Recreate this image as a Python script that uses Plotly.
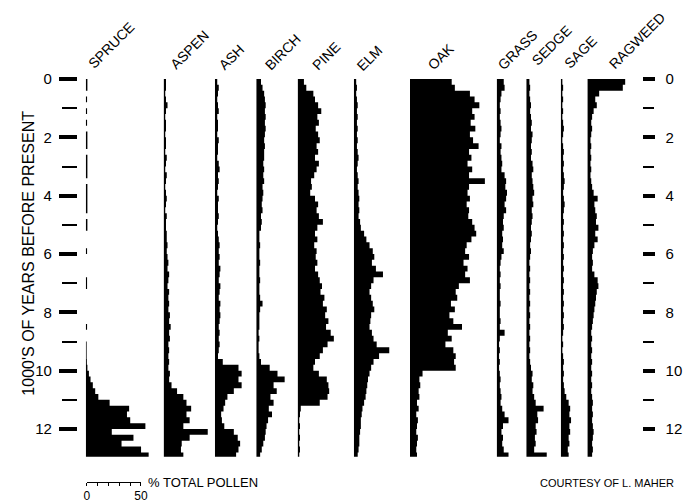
import plotly.graph_objects as go

# ---------------- data (percent of total pollen vs. thousands of years BP) ----------------
depth = [0.0, 0.2, 0.4, 0.6, 0.8, 1.0, 1.2, 1.4, 1.6, 1.8,
         2.0, 2.2, 2.4, 2.6, 2.8, 3.0, 3.2, 3.4, 3.6, 3.8,
         4.0, 4.2, 4.4, 4.6, 4.8, 5.0, 5.2, 5.4, 5.6, 5.8,
         6.0, 6.2, 6.4, 6.6, 6.8, 7.0, 7.2, 7.4, 7.6, 7.8,
         8.0, 8.2, 8.4, 8.6, 8.8, 9.0, 9.2, 9.4, 9.6, 9.8,
         10.0, 10.2, 10.4, 10.6, 10.8, 11.0, 11.2, 11.4, 11.6, 11.8,
         12.0, 12.2, 12.4, 12.6, 12.8, 12.95]

spruce = [1.5, 1.5, 0, 1.2, 0, 1.2, 0, 1.2, 0, 1.5,
          1.5, 1.5, 0, 1.5, 1.5, 1.5, 1.5, 0, 1.5, 1.5,
          1.5, 1.5, 1.5, 0, 1.5, 1.5, 0, 0, 0, 1.2,
          0, 0, 0, 0, 1.2, 1.2, 0, 0, 0, 0,
          0, 0, 1.2, 0, 0, 0.8, 0.8, 0.8, 1.0, 1.5,
          2.9, 4.4, 6.5, 8.7, 11.6, 22, 40, 38, 41, 55,
          24, 44, 33, 51, 58, 64]
aspen = [2.2, 2.2, 1.5, 2.2, 3.6, 2.2, 1.5, 2.2, 2.2, 1.5,
         2.2, 2.2, 1.5, 2.9, 2.2, 1.5, 2.9, 2.2, 1.5, 2.2,
         2.9, 2.2, 1.5, 2.9, 2.2, 2.2, 2.9, 2.9, 3.6, 2.9,
         3.6, 4.4, 3.6, 5.1, 4.4, 3.6, 5.1, 4.4, 5.1, 4.4,
         5.8, 5.1, 6.5, 5.1, 5.8, 4.4, 5.1, 4.4, 5.1, 4.4,
         5.8, 5.1, 7.3, 12.4, 18.2, 21.1, 25.4, 21.1, 24, 18.2,
         40.7, 24, 16.7, 16, 18.2, 15.3]
ash = [2.2, 3.6, 2.9, 2.2, 2.9, 3.6, 2.2, 2.9, 2.9, 2.2,
       3.6, 2.9, 2.9, 2.2, 3.6, 4.4, 2.9, 3.6, 2.9, 2.2,
       3.6, 2.9, 2.9, 3.6, 2.9, 2.2, 2.9, 3.6, 4.4, 3.6,
       4.4, 3.6, 5.1, 4.4, 3.6, 5.1, 4.4, 3.6, 5.1, 4.4,
       5.1, 4.4, 3.6, 4.4, 3.6, 4.4, 3.6, 2.9, 7.3, 21.8,
       24.7, 21.8, 24.7, 17.5, 11.6, 9.5, 8, 5.8, 6.5, 8.7,
       17.5, 21.1, 23.3, 21.8, 19.6, 12.4]
birch = [4.4, 5.8, 7.3, 8, 8.7, 8, 8.7, 8, 8.7, 8,
         7.3, 8, 7.3, 7.3, 6.5, 7.3, 6.5, 7.3, 5.8, 6.5,
         5.8, 5.1, 5.8, 4.4, 5.1, 4.4, 2.9, 2.9, 3.6, 2.9,
         2.9, 3.6, 2.9, 2.9, 3.6, 2.9, 2.9, 3.6, 5.8, 3.6,
         2.9, 2.9, 2.9, 2.2, 2.9, 2.2, 2.2, 2.9, 4.4, 12.4,
         19.6, 26.2, 16, 18.9, 13.1, 16, 11.6, 14.5, 10.9, 9.5,
         8.7, 8, 6.5, 5.1, 3.6, 2.9]
pine = [5.8, 8, 14.5, 16, 18.9, 21.8, 18.2, 19.6, 16.7, 18.9,
        20.4, 17.5, 18.9, 16, 19.6, 17.5, 15.3, 12.4, 13.1, 11.6,
        16, 18.9, 17.5, 19.6, 23.3, 18.2, 16, 18.2, 15.3, 17.5,
        16.7, 18.2, 16, 18.9, 20.4, 22.5, 21.1, 24.7, 23.3, 26.9,
        25.4, 28.4, 26.2, 30.5, 33.4, 27.6, 23.3, 20.4, 16, 14.5,
        19.6, 26.9, 28.4, 29.1, 27.6, 20.4, 2.9, 2.2, 1.5, 2.2,
        1.5, 2.2, 1.5, 2.2, 1.5, 2.2]
elm = [2.2, 2.9, 2.2, 2.9, 3.6, 2.9, 3.6, 2.9, 3.6, 2.9,
       3.6, 2.9, 3.6, 4.4, 3.6, 2.9, 3.6, 4.4, 3.6, 4.4,
       5.1, 4.4, 5.1, 4.4, 5.8, 6.5, 9.5, 11.6, 14.5, 17.5,
       18.9, 16.7, 20.4, 26.9, 18.2, 16, 14.5, 16, 17.5, 18.9,
       16, 15.3, 14.5, 16.7, 18.2, 21.1, 32.7, 23.3, 18.2, 16,
       14.5, 13.1, 12.4, 11.6, 10.9, 9.5, 8, 7.3, 6.5, 6.5,
       5.8, 5.1, 5.1, 4.4, 3.6, 3.6]
oak = [38.5, 41.4, 55.3, 59.6, 64, 57.4, 59.6, 56, 60.3, 55.3,
       58.2, 63.3, 54.5, 56.7, 53.1, 57.4, 54.5, 69.1, 54.5, 53.1,
       55.3, 52.3, 54.5, 53.8, 57.4, 59.6, 61.1, 56.7, 52.3, 50.9,
       54.5, 49.4, 53.1, 50.9, 55.3, 45.1, 42.2, 43.6, 37.8, 41.4,
       36.4, 40, 48, 34.9, 38.5, 32.7, 40, 42.2, 40.7, 42.2,
       11.6, 8.7, 9.5, 8, 8.7, 6.5, 8, 5.8, 7.3, 6.5,
       5.8, 7.3, 6.5, 5.8, 6.5, 5.8]
grass = [6.5, 7.3, 4.4, 3.6, 2.9, 3.6, 2.9, 3.6, 4.4, 3.6,
         2.9, 4.4, 3.6, 4.4, 5.1, 4.4, 7.3, 8.7, 8, 9.5,
         8.7, 7.3, 8.7, 6.5, 5.8, 6.5, 5.1, 5.8, 5.1, 6.5,
         4.4, 3.6, 2.9, 3.6, 2.9, 3.6, 2.9, 2.9, 3.6, 2.9,
         2.9, 3.6, 2.9, 7.3, 2.9, 2.2, 2.9, 2.2, 2.9, 2.2,
         2.9, 3.6, 2.9, 3.6, 4.4, 3.6, 5.1, 7.3, 10.9, 5.8,
         4.4, 5.8, 5.1, 6.5, 10.9, 7.3]
sedge = [2.9, 3.6, 2.9, 3.6, 4.4, 3.6, 4.4, 5.1, 4.4, 5.8,
         5.1, 4.4, 5.1, 4.4, 5.8, 6.5, 5.1, 5.8, 6.5, 7.3,
         5.8, 6.5, 5.1, 5.8, 5.1, 4.4, 5.1, 4.4, 3.6, 4.4,
         3.6, 2.9, 3.6, 2.9, 3.6, 2.9, 3.6, 2.9, 3.6, 2.9,
         3.6, 2.9, 3.6, 2.9, 3.6, 2.9, 3.6, 2.9, 3.6, 4.4,
         5.8, 5.1, 6.5, 5.8, 7.3, 8.7, 16, 10.2, 10.9, 8.7,
         9.5, 8, 8.7, 7.3, 18.9, 14.5]
sage = [1.5, 2.2, 1.5, 2.2, 1.5, 2.2, 1.5, 2.2, 2.9, 2.2,
        1.5, 2.2, 2.9, 2.2, 2.9, 2.2, 2.9, 3.6, 2.9, 2.2,
        2.9, 3.6, 2.9, 2.2, 2.9, 2.2, 2.9, 2.2, 2.9, 2.2,
        2.9, 2.2, 2.9, 2.2, 2.9, 2.2, 2.9, 2.2, 2.9, 2.2,
        2.9, 2.2, 2.9, 2.2, 1.5, 2.2, 1.5, 2.2, 2.9, 2.2,
        2.9, 2.2, 2.9, 3.6, 5.1, 7.3, 8.7, 8, 9.5, 8,
        8.7, 7.3, 8, 6.5, 7.3, 5.8]
ragweed = [34.9, 32.7, 10.9, 7.3, 8.7, 5.8, 4.4, 3.6, 4.4, 3.6,
           2.9, 3.6, 2.9, 3.6, 2.9, 3.6, 2.9, 3.6, 4.4, 5.8,
           9.5, 6.5, 7.3, 8.7, 8, 10.2, 7.3, 9.5, 6.5, 5.1,
           4.4, 5.1, 4.4, 6.5, 9.5, 10.2, 8.7, 8, 7.3, 6.5,
           5.8, 5.1, 4.4, 3.6, 4.4, 3.6, 4.4, 3.6, 4.4, 3.6,
           4.4, 3.6, 4.4, 3.6, 4.4, 5.1, 4.4, 5.1, 4.4, 5.1,
           5.8, 5.1, 4.4, 5.1, 4.4, 3.6]

taxa = ["SPRUCE", "ASPEN", "ASH", "BIRCH", "PINE", "ELM", "OAK",
        "GRASS", "SEDGE", "SAGE", "RAGWEED"]
series = [spruce, aspen, ash, birch, pine, elm, oak, grass, sedge, sage, ragweed]

age_major = [0, 2, 4, 6, 8, 10, 12]
age_minor = [1, 3, 5, 7, 9, 11]
scale_ticks = [0, 10, 20, 30, 40, 50]
scale_labels = ["0", "", "", "", "", "50"]

for nm, s in zip(taxa, series):
    if len(s) != len(depth):
        raise ValueError(f"{nm}: {len(s)} vs {len(depth)}")

# ---------------- layout constants (pixels) ----------------
W, H = 686, 504
PX_PER_PCT = 1.1
SPAN = 70  # percent width reserved per column
col_left = [84, 163, 215, 257, 299, 356, 413, 501, 531, 566, 593]
head_xy = [(110, 45), (189, 50), (232, 57), (284, 52), (328, 56), (372, 58),
           (444, 57), (522, 50), (557, 45), (586, 52), (643, 41)]
Y0_PX, PX_PER_KYR = 79.0, 29.17
y_range = [(H - Y0_PX) / PX_PER_KYR, -Y0_PX / PX_PER_KYR]
FONT = "Liberation Sans, Arial, sans-serif"

fig = go.Figure()
layout = dict(
    width=W, height=H, margin=dict(l=0, r=0, t=0, b=0),
    paper_bgcolor="white", plot_bgcolor="rgba(0,0,0,0)", showlegend=False,
    font=dict(family=FONT, color="black"),
)

for i, (nm, vals) in enumerate(zip(taxa, series)):
    k = i + 1
    xa = "x" if k == 1 else f"x{k}"
    fig.add_trace(go.Scatter(
        x=vals, y=depth, xaxis=xa, yaxis="y", mode="lines",
        line=dict(color="black", width=0, shape="vh"),
        fill="tozerox", fillcolor="black",
        hoverinfo="skip", name=nm))
    x0 = col_left[i]
    layout["xaxis" if k == 1 else f"xaxis{k}"] = dict(
        domain=[x0 / W, (x0 + SPAN * PX_PER_PCT) / W], range=[0, SPAN],
        visible=False, anchor="y", fixedrange=True)

# scale bar axis
sk = len(taxa) + 1
fig.add_trace(go.Scatter(x=scale_ticks, y=[None] * len(scale_ticks),
                         xaxis=f"x{sk}", yaxis="y", mode="lines", hoverinfo="skip"))
layout[f"xaxis{sk}"] = dict(
    domain=[85 / W, (85 + 50 * PX_PER_PCT) / W], range=[0, 50],
    anchor="free", position=1 - 482 / H, showline=True, linecolor="black", linewidth=1,
    ticks="outside", ticklen=3, tickwidth=1, tickcolor="black",
    tickvals=scale_ticks, ticktext=scale_labels, tickfont=dict(size=12),
    showgrid=False, zeroline=False)

# age axes: left major / left minor / right major / right minor
def age_axis(vals, pos, side, tlen, twid, labels, overlay, standoff):
    d = dict(range=y_range, showgrid=False, zeroline=False, showline=False,
             tickmode="array", tickvals=vals, ticks="outside", tickcolor="black",
             ticklen=tlen, tickwidth=twid, showticklabels=labels,
             tickfont=dict(size=15), fixedrange=True, ticklabelstandoff=standoff,
             anchor="free", position=pos, side=side)
    if overlay:
        d["overlaying"] = "y"
    else:
        d["domain"] = [0, 1]
    return d

layout["yaxis"] = age_axis(age_major, 75 / W, "left", 18, 3.5, True, False, 4)
layout["yaxis2"] = age_axis(age_minor, 75 / W, "left", 15, 2.2, False, True, 0)
layout["yaxis3"] = age_axis(age_major, 648 / W, "right", 12, 3.5, True, True, 8)
layout["yaxis4"] = age_axis(age_minor, 648 / W, "right", 11, 2.2, False, True, 0)
for ya in ["y2", "y3", "y4"]:
    fig.add_trace(go.Scatter(x=[None], y=depth[:1], xaxis="x", yaxis=ya,
                             mode="lines", hoverinfo="skip"))

ann = []
for (cx, cy), nm in zip(head_xy, taxa):
    ann.append(dict(text=nm, x=cx / W, y=1 - cy / H, xref="paper", yref="paper",
                    xanchor="center", yanchor="middle", textangle=-45,
                    showarrow=False, font=dict(size=14)))
ann.append(dict(text="1000'S OF YEARS BEFORE PRESENT", x=25 / W, y=1 - 253 / H,
                xref="paper", yref="paper", xanchor="center", yanchor="middle",
                textangle=-90, showarrow=False, font=dict(size=16)))
ann.append(dict(text="% TOTAL POLLEN", x=145 / W, y=1 - 482 / H, xref="paper",
                yref="paper", xanchor="left", yanchor="middle", showarrow=False,
                font=dict(size=13)))
ann.append(dict(text="COURTESY OF L. MAHER", x=613 / W, y=1 - 483 / H, xref="paper",
                yref="paper", xanchor="center", yanchor="middle", showarrow=False,
                font=dict(size=11)))
layout["annotations"] = ann

fig.update_layout(**layout)
fig.write_html("out.html")
